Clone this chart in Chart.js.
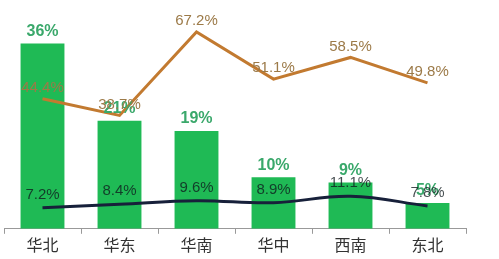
<!DOCTYPE html>
<html>
<head>
<meta charset="utf-8">
<script src="https://cdn.jsdelivr.net/npm/chart.js@4"></script>
<style>
  html, body { margin: 0; padding: 0; background: #fff; }
  #wrap { width: 499px; height: 259px; }
</style>
</head>
<body>
<div id="wrap"><canvas id="chart" width="499" height="259"></canvas></div>
<script>
const regions = ["华北", "华东", "华南", "华中", "西南", "东北"];
const barShare = [36, 21, 19, 10, 9, 5];
const orangeRate = [44.4, 38.7, 67.2, 51.1, 58.5, 49.8];
const navyRate = [7.2, 8.4, 9.6, 8.9, 11.1, 7.8];

// draws the % labels above bars and line points
const valueLabels = {
	id: "valueLabels",
	afterDatasetsDraw(chart) {
		const ctx = chart.ctx;
		const styles = [
			{ font: "bold 16px 'Liberation Sans', Arial", color: "#3aa86b", dy: 12, fmt: v => v + "%" },
			{ font: "15px 'Liberation Sans', Arial", color: "#9c7a48", dy: 11, fmt: v => v.toFixed(1) + "%" },
			{ font: "15px 'Liberation Sans', Arial", color: "rgba(15,25,30,0.78)", dy: 13, fmt: v => v.toFixed(1) + "%" }
		];
		ctx.save();
		ctx.textAlign = "center";
		ctx.textBaseline = "middle";
		chart.data.datasets.forEach((ds, i) => {
			const meta = chart.getDatasetMeta(i);
			const s = styles[i];
			ctx.font = s.font;
			ctx.fillStyle = s.color;
			meta.data.forEach((el, j) => {
				ctx.fillText(s.fmt(ds.data[j]), el.x, el.y - s.dy);
			});
		});
		ctx.restore();
	}
};

new Chart(document.getElementById("chart"), {
	type: "bar",
	data: {
		labels: regions,
		datasets: [
			{
				type: "bar",
				data: barShare,
				backgroundColor: "#1fba55",
				yAxisID: "y",
				categoryPercentage: 1,
				barPercentage: 0.57,
				order: 3
			},
			{
				type: "line",
				data: orangeRate,
				borderColor: "#c27a30",
				borderWidth: 3,
				pointRadius: 0,
				tension: 0,
				yAxisID: "y2",
				order: 2
			},
			{
				type: "line",
				data: navyRate,
				borderColor: "#17203a",
				borderWidth: 3,
				pointRadius: 0,
				tension: 0.4,
				yAxisID: "y2",
				order: 1
			}
		]
	},
	options: {
		responsive: false,
		animation: false,
		layout: { padding: { top: 5, left: 4, right: 33, bottom: 2 } },
		plugins: {
			legend: { display: false },
			tooltip: { enabled: false }
		},
		scales: {
			x: {
				grid: { drawOnChartArea: false, color: "#999", tickLength: 5 },
				border: { color: "#999" },
				ticks: {
					color: "#333",
					font: { size: 16, family: "'Noto Sans CJK SC'" },
					padding: 2
				}
			},
			y: { display: false, min: 0, max: 43.5 },
			y2: { display: false, min: 0, max: 76.4 }
		}
	},
	plugins: [valueLabels]
});
</script>
</body>
</html>
